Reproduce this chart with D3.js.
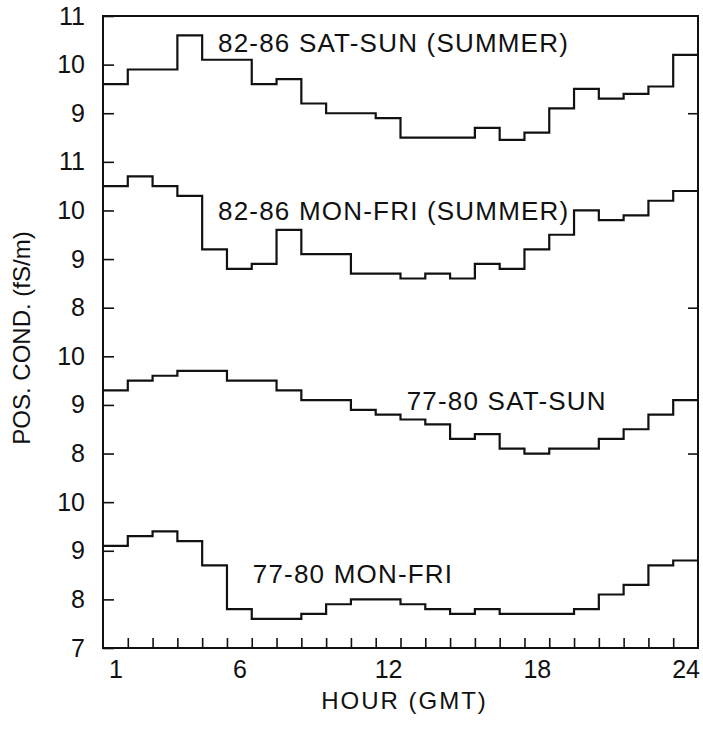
<!DOCTYPE html>
<html>
<head>
<meta charset="utf-8">
<script src="https://cdn.jsdelivr.net/npm/d3@7"></script>
<style>
  body { margin: 0; background: #fff; }
  text { font-family: "Liberation Sans", Arial, Helvetica, sans-serif; fill: #111; }
</style>
</head>
<body>
<div id="chart"></div>
<script>
// ******************** data ********************

// hour of day (GMT), one value per hour
const hours = [1, 2, 3, 4, 5, 6, 7, 8, 9, 10, 11, 12, 13, 14, 15, 16, 17, 18, 19, 20, 21, 22, 23, 24];

// positive conductivity (fS/m) per hour for each panel
const satSun8286 = [9.6, 9.9, 9.9, 10.6, 10.1, 10.1, 9.6, 9.7, 9.2, 9.0, 9.0, 8.9,
                    8.5, 8.5, 8.5, 8.7, 8.45, 8.6, 9.1, 9.5, 9.3, 9.4, 9.55, 10.2];
const monFri8286 = [10.5, 10.7, 10.5, 10.3, 9.2, 8.8, 8.9, 9.6, 9.1, 9.1, 8.7, 8.7,
                    8.6, 8.7, 8.6, 8.9, 8.8, 9.2, 9.5, 10.0, 9.8, 9.9, 10.2, 10.4];
const satSun7780 = [9.3, 9.5, 9.6, 9.7, 9.7, 9.5, 9.5, 9.3, 9.1, 9.1, 8.9, 8.8,
                    8.7, 8.6, 8.3, 8.4, 8.1, 8.0, 8.1, 8.1, 8.3, 8.5, 8.8, 9.1];
const monFri7780 = [9.1, 9.3, 9.4, 9.2, 8.7, 7.8, 7.6, 7.6, 7.7, 7.9, 8.0, 8.0,
                    7.9, 7.8, 7.7, 7.8, 7.7, 7.7, 7.7, 7.8, 8.1, 8.3, 8.7, 8.8];

// panel names, top to bottom
const panelNames = ["82-86 SAT-SUN (SUMMER)", "82-86 MON-FRI (SUMMER)", "77-80 SAT-SUN", "77-80 MON-FRI"];
const panelSeries = [satSun8286, monFri8286, satSun7780, monFri7780];
// tick labels of each panel's own y range
const panelTicks = [[9, 10, 11], [8, 9, 10, 11], [8, 9, 10], [7, 8, 9, 10]];

// x tick labels
const hourLabels = [1, 6, 12, 18, 24];

// ******************** layout ********************

const width = 703;
const height = 729;
const margin = { top: 16, right: 5, bottom: 81, left: 103 };
const innerW = width - margin.left - margin.right;
const innerH = height - margin.top - margin.bottom;

// each panel is shifted so its values sit on one shared stacked axis (13 units tall)
const panelOffset = [2, -1, -4, -7];
// where each panel's name sits: [hour, value in that panel]
const labelAt = [[5.14, 10.26], [5.14, 9.8], [12.75, 8.89], [6.54, 8.33]];

const svg = d3.select("#chart")
    .append("svg")
    .attr("width", width)
    .attr("height", height)
    .append("g")
    .attr("transform", `translate(${margin.left},${margin.top})`);

// scales
const x = d3.scaleLinear().domain([0.5, 24.5]).range([0, innerW]);
const yStack = d3.scaleLinear().domain([0, 13]).range([innerH, 0]);
const yPanel = (i, v) => yStack(v + panelOffset[i]);

// ******************** axes ********************

// all y ticks of every panel on the left side
const yTicks = [];
panelTicks.forEach((ticks, i) => ticks.forEach(t => yTicks.push({ pos: t + panelOffset[i], label: t })));

const gy = svg.append("g")
    .call(d3.axisLeft(yStack)
        .tickValues(yTicks.map(d => d.pos))
        .tickFormat((d, i) => yTicks[i].label)
        .tickSize(-11)
        .tickPadding(18));
gy.select(".domain").remove();
gy.selectAll("line").attr("stroke", "#111").attr("stroke-width", 1.6);
gy.selectAll("text").style("font-size", "25px").attr("fill", "#111");

// right side has a tick at the bottom of each upper panel
const rightTicks = panelTicks.slice(0, 3).map((t, i) => t[0] + panelOffset[i]);
const gyr = svg.append("g")
    .attr("transform", `translate(${innerW},0)`)
    .call(d3.axisRight(yStack).tickValues(rightTicks).tickSize(-10).tickFormat(""));
gyr.select(".domain").remove();
gyr.selectAll("line").attr("stroke", "#111").attr("stroke-width", 1.6);

// x ticks sit on the hour boundaries, pointing inward
const boundaries = hours.slice(0, -1).map(h => h + 0.5);
const gxt = svg.append("g")
    .attr("transform", `translate(0,${innerH})`)
    .call(d3.axisBottom(x).tickValues(boundaries).tickSize(-10).tickFormat(""));
gxt.select(".domain").remove();
gxt.selectAll("line").attr("stroke", "#111").attr("stroke-width", 1.6);

// hour labels under the bin centers
const gxl = svg.append("g")
    .attr("transform", `translate(0,${innerH})`)
    .call(d3.axisBottom(x).tickValues(hourLabels).tickSize(0).tickPadding(12));
gxl.select(".domain").remove();
gxl.selectAll("text").style("font-size", "25px").attr("fill", "#111");

// frame
svg.append("rect")
    .attr("x", 0).attr("y", 0)
    .attr("width", innerW).attr("height", innerH)
    .attr("fill", "none")
    .attr("stroke", "#111")
    .attr("stroke-width", 2);

// axis titles
svg.append("text")
    .attr("x", innerW / 2 + 4)
    .attr("y", innerH + 61)
    .attr("text-anchor", "middle")
    .style("font-size", "24px")
    .style("letter-spacing", "2px")
    .text("HOUR (GMT)");
svg.append("text")
    .attr("transform", "rotate(-90)")
    .attr("x", -innerH / 2 - 6)
    .attr("y", -73)
    .attr("text-anchor", "middle")
    .style("font-size", "24px")
    .text("POS. COND. (fS/m)");

// ******************** step lines ********************

const line = d3.line()
    .x(d => x(d.h))
    .y(d => d.y)
    .curve(d3.curveStepAfter);

panelSeries.forEach((vals, i) => {
    // each hour covers h-0.5 .. h+0.5, so add a closing point at the right edge
    const pts = hours.map((h, j) => ({ h: h - 0.5, y: yPanel(i, vals[j]) }));
    pts.push({ h: hours[hours.length - 1] + 0.5, y: yPanel(i, vals[vals.length - 1]) });

    svg.append("path")
        .datum(pts)
        .attr("fill", "none")
        .attr("stroke", "#111")
        .attr("stroke-width", 2.2)
        .attr("d", line);

    svg.append("text")
        .attr("x", x(labelAt[i][0]))
        .attr("y", yPanel(i, labelAt[i][1]))
        .style("font-size", "26px")
        .style("letter-spacing", "1.2px")
        .text(panelNames[i]);
});
</script>
</body>
</html>
